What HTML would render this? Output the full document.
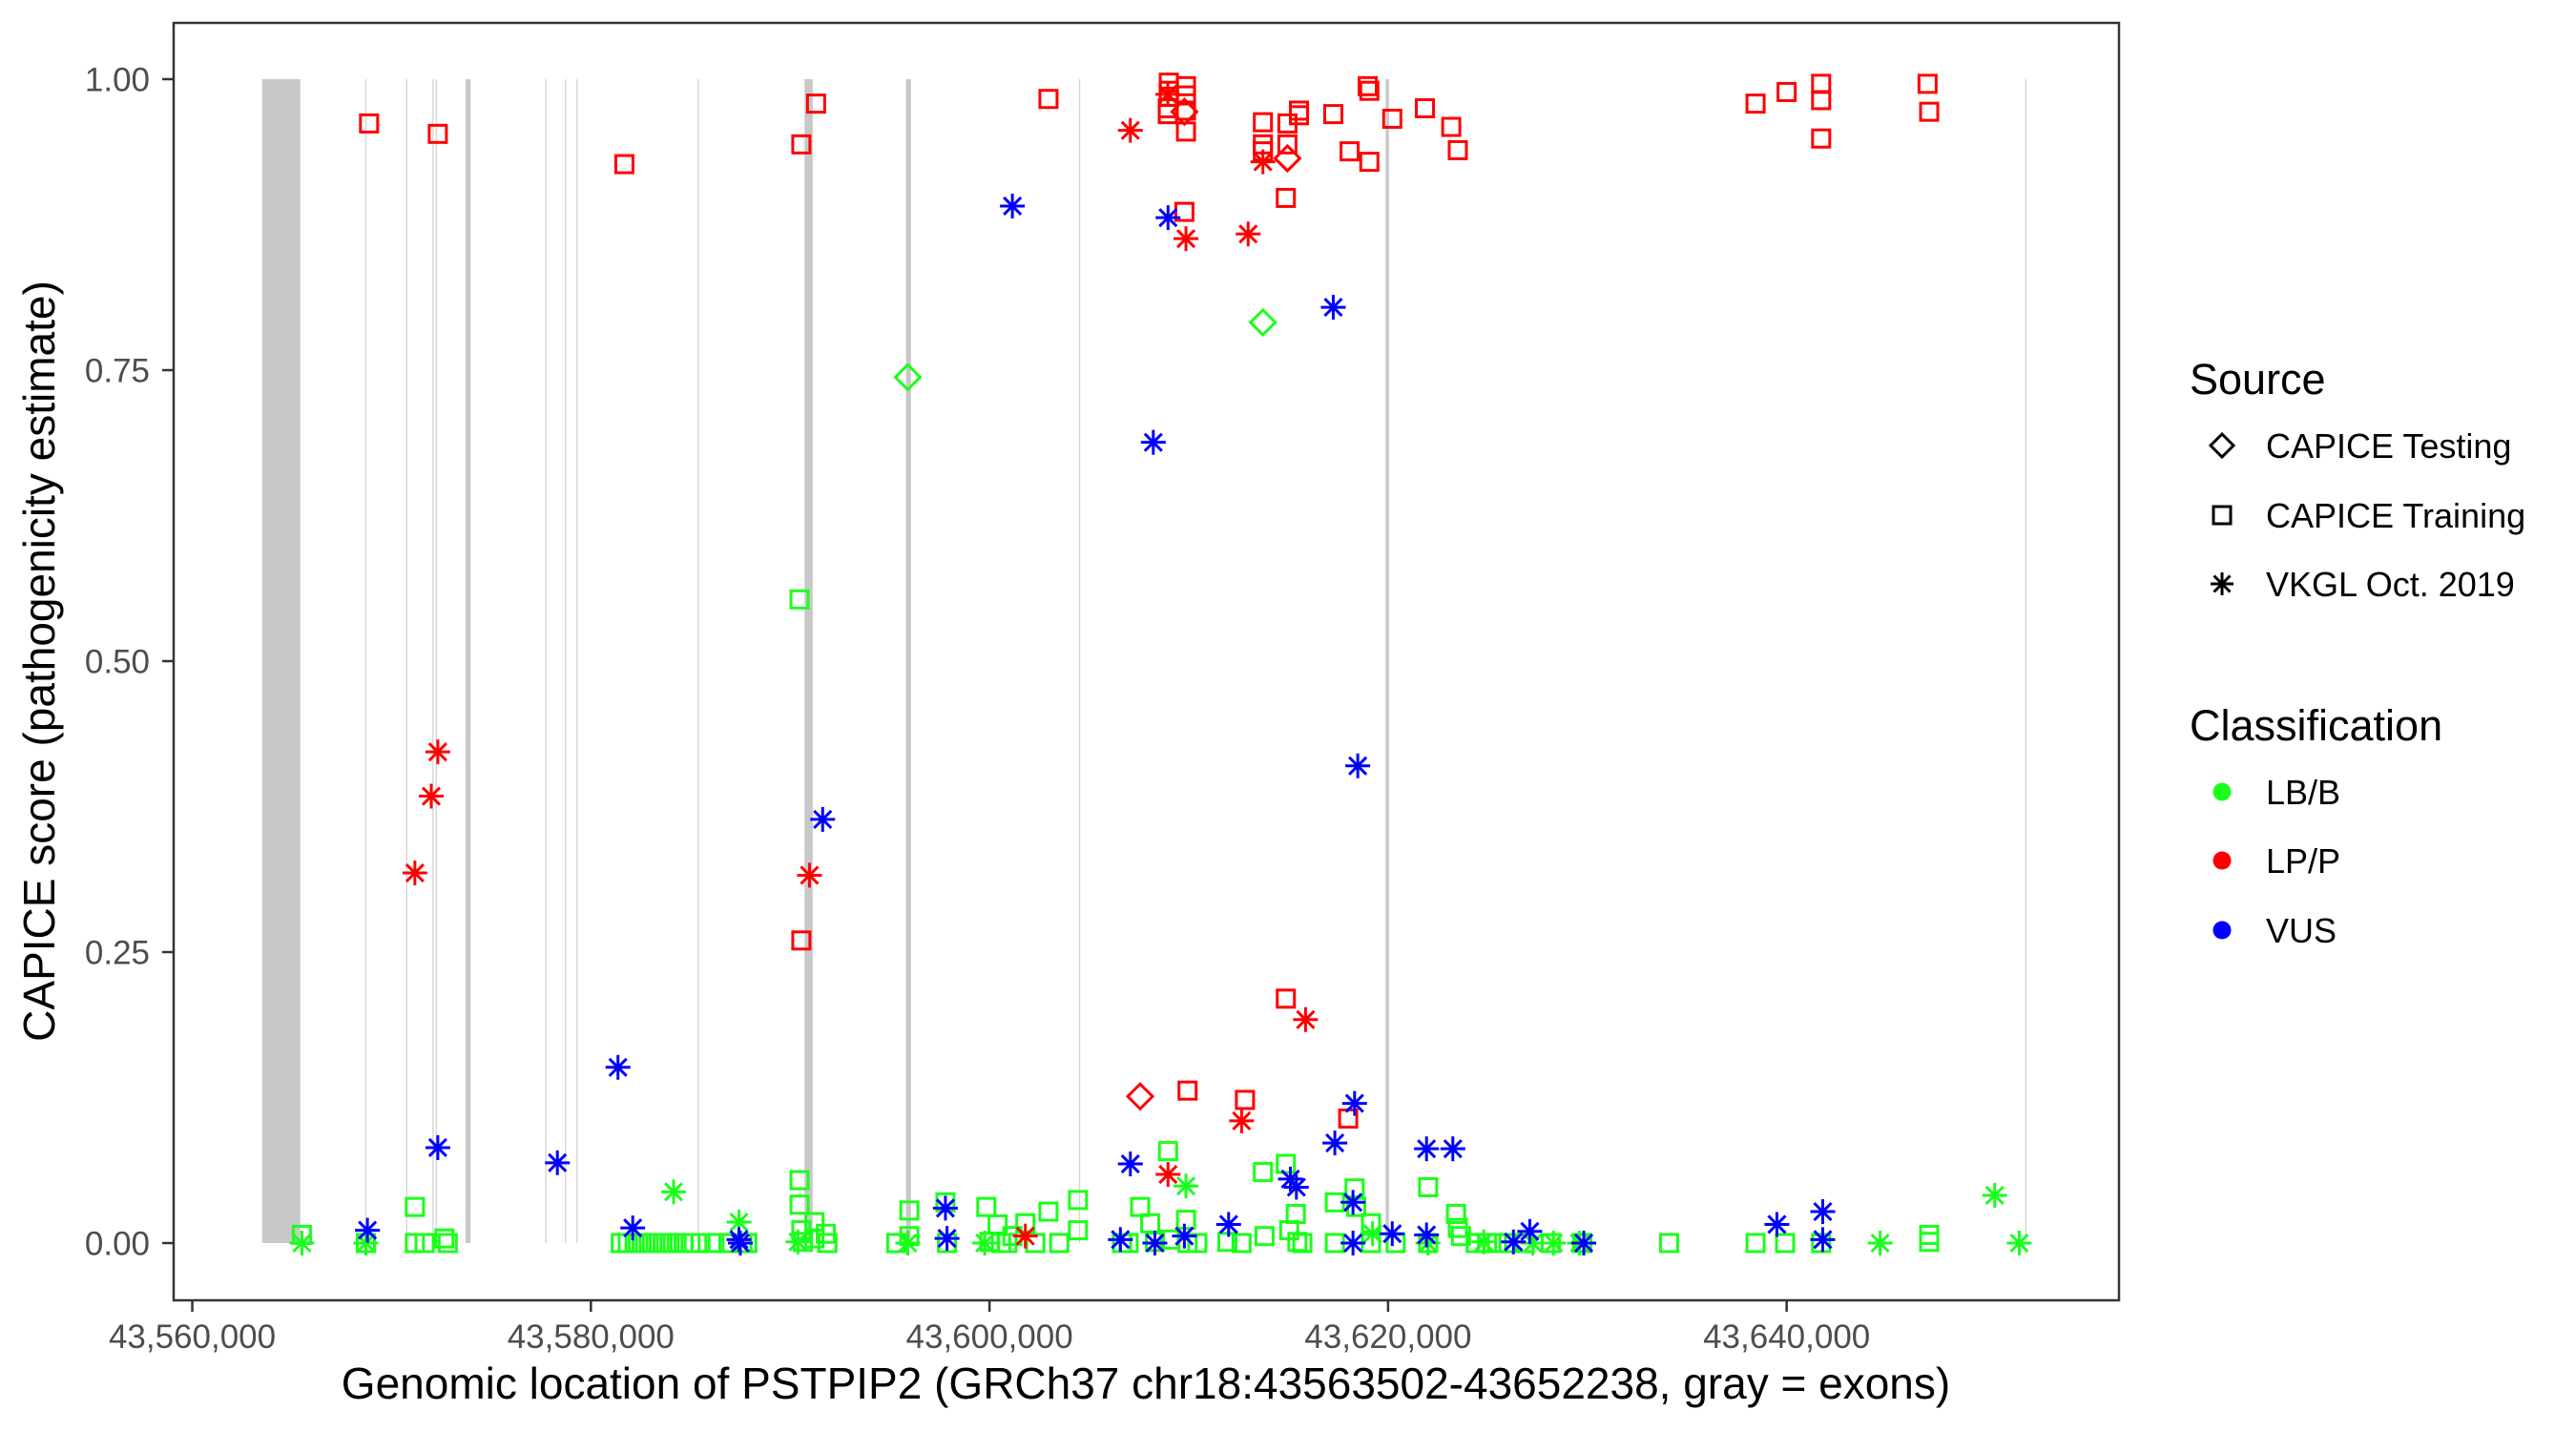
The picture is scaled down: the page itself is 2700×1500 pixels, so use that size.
<!DOCTYPE html>
<html><head><meta charset="utf-8"><style>
html,body{margin:0;padding:0;background:#fff;}
svg{display:block;font-family:"Liberation Sans",sans-serif;}
</style></head><body>
<svg id="chart" width="2700" height="1500" viewBox="0 0 2700 1500" xmlns="http://www.w3.org/2000/svg">
<rect x="0" y="0" width="2700" height="1500" fill="#fff"/>
<g id="exons"></g>
<g id="points"></g>
<rect x="182" y="24" width="2039" height="1339" fill="none" stroke="#333" stroke-width="2.5"/>
<g id="axes"></g>
<text x="1201" y="1466" font-size="46" text-anchor="middle" fill="#000">Genomic location of PSTPIP2 (GRCh37 chr18:43563502-43652238, gray = exons)</text>
<text transform="translate(57,693) rotate(-90)" font-size="46" text-anchor="middle" fill="#000">CAPICE score (pathogenicity estimate)</text>
<g id="legend">
<text x="2295" y="413" font-size="45" fill="#000">Source</text>
<polygon points="2329,455 2341,467 2329,479 2317,467" fill="none" stroke="#000" stroke-width="3"/>
<text x="2375" y="480" font-size="36" fill="#000">CAPICE Testing</text>
<rect x="2320" y="531" width="18" height="18" fill="none" stroke="#000" stroke-width="3"/>
<text x="2375" y="553" font-size="36" fill="#000">CAPICE Training</text>
<g stroke="#000" stroke-width="3">
<line x1="2329" y1="600" x2="2329" y2="624"/><line x1="2317" y1="612" x2="2341" y2="612"/><line x1="2320.5" y1="603.5" x2="2337.5" y2="620.5"/><line x1="2320.5" y1="620.5" x2="2337.5" y2="603.5"/></g>
<text x="2375" y="625" font-size="36" fill="#000">VKGL Oct. 2019</text>
<text x="2295" y="776" font-size="45" fill="#000">Classification</text>
<circle cx="2329" cy="830" r="9.5" fill="#1aff1a"/>
<text x="2375" y="843" font-size="36" fill="#000">LB/B</text>
<circle cx="2329" cy="902" r="9.5" fill="#ff0000"/>
<text x="2375" y="915" font-size="36" fill="#000">LP/P</text>
<circle cx="2329" cy="975" r="9.5" fill="#0000ff"/>
<text x="2375" y="988" font-size="36" fill="#000">VUS</text>
</g>
</svg>
<script>
// ---- data (positions in kb on chr18, scores 0..1) ----
const xTicks = [43560000, 43580000, 43600000, 43620000, 43640000];
const xTickLabels = ["43,560,000","43,580,000","43,600,000","43,620,000","43,640,000"];
const yTicks = [0, 0.25, 0.5, 0.75, 1.0];
const yTickLabels = ["0.00","0.25","0.50","0.75","1.00"];
const exonStarts = [43563502,43568680,43570730,43572045,43572210,43573717,43577712,43578698,43579273,43585351,43590720,43595813,43604490,43619880,43651967];
const exonEnds   = [43565421,43568740,43570790,43572105,43572270,43573964,43577772,43578758,43579333,43585411,43591131,43596060,43604550,43620045,43652027];

const redTrainPos = [43568.87,43572.32,43581.68,43590.56,43591.30,43602.96,43609.0,43609.0,43609.0,43608.95,43608.95,43609.86,43609.86,43609.86,43609.86,43609.78,43613.72,43613.72,43613.72,43614.95,43614.95,43614.87,43615.53,43615.53,43617.25,43618.07,43618.98,43619.06,43619.06,43620.21,43621.85,43623.17,43623.50,43638.44,43640.0,43641.73,43641.73,43641.73,43647.07,43647.15,43590.56,43614.87,43609.94,43612.82,43618.0];
const redTrainScore = [0.962,0.953,0.927,0.944,0.979,0.983,0.997,0.99,0.985,0.975,0.97,0.994,0.986,0.973,0.955,0.886,0.963,0.944,0.938,0.962,0.944,0.898,0.973,0.969,0.97,0.938,0.994,0.99,0.929,0.966,0.975,0.959,0.939,0.979,0.989,0.996,0.982,0.949,0.996,0.972,0.26,0.21,0.131,0.123,0.107];
const redVkglPos = [43571.17,43571.99,43572.32,43590.97,43607.07,43608.95,43609.86,43612.98,43613.72,43612.65,43608.96,43615.86,43601.8];
const redVkglScore = [0.318,0.384,0.422,0.316,0.956,0.987,0.863,0.867,0.929,0.105,0.059,0.192,0.006];
const redTestPos = [43607.56,43614.95,43609.78];
const redTestScore = [0.126,0.932,0.972];
const greenTestPos = [43595.9,43613.72];
const greenTestScore = [0.744,0.791];
const blueVkglPos = [43568.79,43572.32,43578.32,43581.36,43582.10,43587.43,43587.5,43591.63,43597.79,43597.87,43601.15,43607.07,43606.57,43608.22,43608.3,43608.96,43609.78,43612.0,43615.1,43615.4,43617.25,43617.33,43618.32,43618.24,43618.48,43618.24,43620.21,43621.93,43621.93,43623.25,43626.29,43627.11,43629.82,43639.51,43641.81,43641.81];
const blueVkglScore = [0.011,0.082,0.069,0.151,0.013,0.003,0.0,0.364,0.03,0.004,0.891,0.068,0.003,0.688,0.0,0.881,0.006,0.016,0.055,0.048,0.804,0.086,0.12,0.035,0.41,0.0,0.008,0.081,0.007,0.081,0.001,0.01,0.0,0.016,0.027,0.003];
const greenVkglPos = [43565.5,43568.71,43584.15,43587.43,43590.39,43595.9,43599.76,43609.86,43619.22,43622.0,43624.8,43627.26,43628.3,43629.6,43644.69,43650.44,43651.67];
const greenVkglScore = [0.0,0.0,0.044,0.018,0.001,0.0,0.0,0.049,0.008,0.0,0.001,0.0,0.0,0.0,0.0,0.041,0.0];
const greenTrainPos = [43565.5,43568.71,43571.17,43571.17,43571.66,43572.65,43572.82,
 43581.5,43581.85,43582.2,43582.55,43582.9,43583.25,43583.6,43583.95,43584.3,43584.65,43585.0,43585.5,43586.2,43586.9,43587.6,43587.85,
 43590.47,43590.47,43590.47,43590.56,43590.64,43591.22,43591.22,43591.79,43591.87,
 43595.32,43595.98,43595.98,43597.79,43597.87,
 43599.84,43600.41,43600.0,43600.58,43601.15,43601.8,43602.96,43604.44,43604.44,43603.5,43602.3,43600.9,
 43606.65,43606.98,43607.56,43608.06,43608.3,43608.96,43609.04,43609.86,43609.94,43610.43,
 43611.94,43612.65,43613.72,43613.8,43614.87,43615.04,43615.37,43615.45,43615.7,
 43617.33,43617.33,43618.32,43618.4,43619.14,43619.14,43620.38,
 43622.01,43622.01,43623.41,43623.5,43623.66,43624.4,43624.97,43625.46,43626.04,43626.86,43628.17,43629.74,43634.1,43638.44,43639.92,43641.73,43647.15,43647.15];
const greenTrainScore = [0.007,0.0,0.031,0.0,0.0,0.004,0.0,
 0,0,0,0,0,0,0,0,0,0,0,0,0,0,0,0,
 0.054,0.553,0.033,0.011,0.001,0.018,0.004,0.008,0.0,
 0.0,0.028,0.006,0.035,0.0,
 0.031,0.016,0.001,0.0,0.006,0.017,0.027,0.037,0.011,0.0,0.0,0.0,
 0.0,0.0,0.031,0.017,0.001,0.079,0.003,0.02,0.0,0.0,
 0.001,0.0,0.061,0.006,0.068,0.011,0.025,0.001,0.0,
 0.035,0.0,0.047,0.031,0.017,0.0,0.0,
 0.048,0.0,0.025,0.013,0.006,0.0,0.0,0.0,0.0,0.0,0.0,0.0,0.0,0.0,0.0,0.0,0.007,0.001];

// ---- scales ----
const X0 = 43559065, X1 = 43656675, PX0 = 182, PX1 = 2221;
const Y0 = -0.05, Y1 = 1.05, PY0 = 1364, PY1 = 22;
function xs(v){ return PX0 + (v - X0) / (X1 - X0) * (PX1 - PX0); }
function xkb(kb){ return xs(kb * 1000); }
function ys(v){ return PY0 + (v - Y0) / (Y1 - Y0) * (PY1 - PY0); }
const NS = "http://www.w3.org/2000/svg";
function mk(tag, attrs, parent){
  const el = document.createElementNS(NS, tag);
  for (const k in attrs) el.setAttribute(k, attrs[k]);
  parent.appendChild(el);
  return el;
}
const colors = {red:"#ff0000", green:"#1aff1a", blue:"#0000ff"};

const gEx = document.getElementById("exons");
for (let i = 0; i < exonStarts.length; i++) {
  const a = xs(exonStarts[i]), b = xs(exonEnds[i]);
  const w = Math.max(b - a, 1.3);
  const r = mk("rect", {x: a, y: ys(1), width: w, height: ys(0) - ys(1), fill: w < 2 ? "#d4d4d4" : "#c8c8c8"}, gEx);
  
  
}

const gAx = document.getElementById("axes");
for (let i = 0; i < xTicks.length; i++) {
  const x = xs(xTicks[i]);
  const t = mk("line", {x1: x, x2: x, y1: 1363, y2: 1375, stroke: "#333", "stroke-width": 2.5}, gAx);
  
  
  const l = mk("text", {x: x, y: 1413, "font-size": 35, "text-anchor": "middle", fill: "#4d4d4d"}, gAx);
  l.textContent = xTickLabels[i];
  
  
}
for (let i = 0; i < yTicks.length; i++) {
  const y = ys(yTicks[i]);
  const t = mk("line", {x1: 170, x2: 182, y1: y, y2: y, stroke: "#333", "stroke-width": 2.5}, gAx);
  
  
  const l = mk("text", {x: 157, y: y + 12.5, "font-size": 35, "text-anchor": "end", fill: "#4d4d4d"}, gAx);
  l.textContent = yTickLabels[i];
  
  
}

const gP = document.getElementById("points");
function square(x, y, c){
  const r = mk("rect", {x: x - 9, y: y - 9, width: 18, height: 18, fill: "none", stroke: c, "stroke-width": 3}, gP);
  
  
}
function diamond(x, y, c){
  const p = mk("polygon", {points: `${x},${y-13} ${x+13},${y} ${x},${y+13} ${x-13},${y}`, fill: "none", stroke: c, "stroke-width": 3}, gP);
  
  
}
function asterisk(x, y, c){
  const g = mk("g", {stroke: c, "stroke-width": 3}, gP);
  
  
  mk("line", {x1: x, y1: y - 13, x2: x, y2: y + 13}, g);
  mk("line", {x1: x - 13, y1: y, x2: x + 13, y2: y}, g);
  mk("line", {x1: x - 9, y1: y - 9, x2: x + 9, y2: y + 9}, g);
  mk("line", {x1: x - 9, y1: y + 9, x2: x + 9, y2: y - 9}, g);
}
function drawSeries(pos, sc, fn, c){
  for (let i = 0; i < pos.length; i++) fn(xkb(pos[i]), ys(sc[i]), c);
}
drawSeries(greenTrainPos, greenTrainScore, square, colors.green);
drawSeries(greenVkglPos, greenVkglScore, asterisk, colors.green);
drawSeries(greenTestPos, greenTestScore, diamond, colors.green);
drawSeries(redTrainPos, redTrainScore, square, colors.red);
drawSeries(redVkglPos, redVkglScore, asterisk, colors.red);
drawSeries(redTestPos, redTestScore, diamond, colors.red);
drawSeries(blueVkglPos, blueVkglScore, asterisk, colors.blue);
</script>
</body></html>
